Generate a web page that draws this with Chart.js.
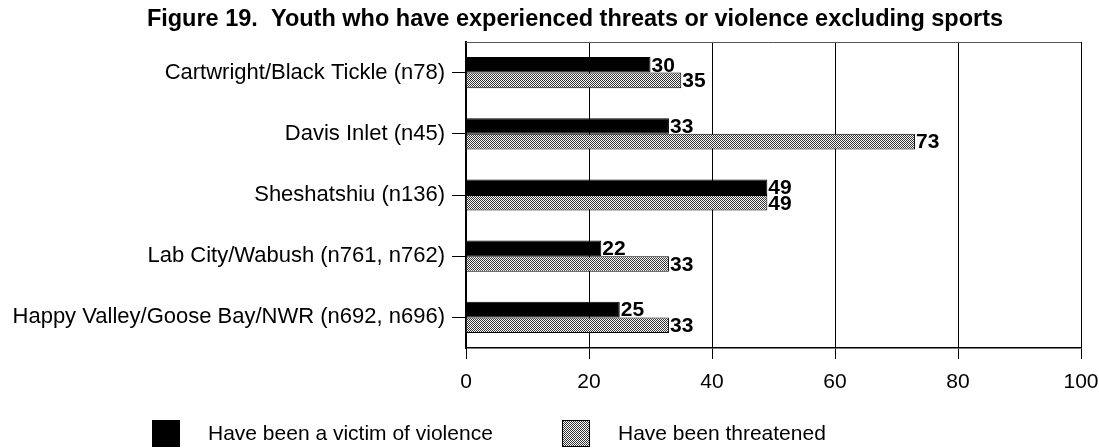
<!DOCTYPE html>
<html>
<head>
<meta charset="utf-8">
<script src="https://cdn.jsdelivr.net/npm/chart.js@4.4.1/dist/chart.umd.min.js"></script>
<style>
    html, body { margin: 0; padding: 0; background: #fff; }
    #wrap { width: 1099px; height: 448px; }
</style>
</head>
<body>
<div id="wrap"><canvas id="chart-youth" width="1099" height="448"></canvas></div>
<script>
// 数据
const CATEGORIES = [
    'Cartwright/Black Tickle (n78)',
    'Davis Inlet (n45)',
    'Sheshatshiu (n136)',
    'Lab City/Wabush (n761, n762)',
    'Happy Valley/Goose Bay/NWR (n692, n696)',
];
const VICTIM = [30, 33, 49, 22, 25];
const THREATENED = [35, 73, 49, 33, 33];
const X_TICKS = [0, 20, 40, 60, 80, 100];

const TITLE = 'Figure 19.  Youth who have experienced threats or violence excluding sports';
const LEGEND_LABELS = ['Have been a victim of violence', 'Have been threatened'];

const FONT = "'Liberation Sans', Arial, sans-serif";

// 细网点填充
function dotPattern() {
    const c = document.createElement('canvas');
    c.width = 2;
    c.height = 2;
    const g = c.getContext('2d');
    g.fillStyle = '#fff';
    g.fillRect(0, 0, 2, 2);
    g.fillStyle = '#333';
    g.fillRect(0, 0, 1, 1);
    g.fillRect(1, 1, 1, 1);
    return g.createPattern(c, 'repeat');
}
const HATCH = dotPattern();

// 标题
const titlePlugin = {
    id: 'figTitle',
    afterDraw(chart, args, opts) {
        const ctx = chart.ctx;
        ctx.save();
        ctx.font = 'bold 23.5px ' + FONT;
        ctx.fillStyle = '#000';
        ctx.textAlign = 'center';
        ctx.textBaseline = 'middle';
        ctx.fillText(opts.text, opts.x, opts.y);
        ctx.restore();
    },
};

// 图框上边线
const framePlugin = {
    id: 'frame',
    beforeDatasetsDraw(chart) {
        const a = chart.chartArea;
        const ctx = chart.ctx;
        ctx.save();
        ctx.strokeStyle = '#555';
        ctx.lineWidth = 1;
        ctx.beginPath();
        ctx.moveTo(a.left, a.top + 0.5);
        ctx.lineTo(a.right, a.top + 0.5);
        ctx.stroke();
        ctx.restore();
    },
};

// 数值标签
const valueLabels = {
    id: 'valueLabels',
    afterDatasetsDraw(chart) {
        const ctx = chart.ctx;
        ctx.save();
        ctx.font = 'bold 21px ' + FONT;
        ctx.fillStyle = '#000';
        ctx.textAlign = 'left';
        ctx.textBaseline = 'middle';
        chart.data.datasets.forEach((ds, i) => {
            chart.getDatasetMeta(i).data.forEach((bar, j) => {
                ctx.fillText(String(ds.data[j]), bar.x + 1, bar.y + 1);
            });
        });
        ctx.restore();
    },
};

// 底部图例
const legendRow = {
    id: 'legendRow',
    afterDraw(chart, args, opts) {
        const ctx = chart.ctx;
        ctx.save();
        ctx.font = '21px ' + FONT;
        ctx.textBaseline = 'middle';
        chart.data.datasets.forEach((ds, i) => {
            const x = opts.xs[i];
            ctx.fillStyle = ds.backgroundColor;
            ctx.fillRect(x, opts.y, opts.box, opts.box - 1);
            ctx.strokeStyle = '#000';
            ctx.lineWidth = 1;
            ctx.strokeRect(x + 0.5, opts.y + 0.5, opts.box - 1, opts.box - 2);
            ctx.fillStyle = '#000';
            ctx.fillText(ds.label, x + opts.box + opts.gap, opts.y + opts.box / 2);
        });
        ctx.restore();
    },
};

const ctx = document.getElementById('chart-youth');
new Chart(ctx, {
    type: 'bar',
    data: {
        labels: CATEGORIES,
        datasets: [
            {
                label: LEGEND_LABELS[0],
                data: VICTIM,
                backgroundColor: '#000',
                borderColor: '#000',
                borderWidth: 1,
                categoryPercentage: 0.51,
                barPercentage: 1.0,
            },
            {
                label: LEGEND_LABELS[1],
                data: THREATENED,
                backgroundColor: HATCH,
                borderColor: '#000',
                borderWidth: 1,
                categoryPercentage: 0.51,
                barPercentage: 1.0,
            },
        ],
    },
    options: {
        indexAxis: 'y',
        responsive: false,
        devicePixelRatio: 1,
        animation: false,
        layout: { padding: { left: 0, right: 18, top: 42, bottom: 0 } },
        plugins: {
            legend: { display: false },
            title: { display: false },
            tooltip: { enabled: false },
            figTitle: { text: TITLE, x: 575, y: 20 },
            legendRow: { xs: [152, 562], y: 420, box: 28, gap: 28 },
        },
        scales: {
            x: {
                type: 'linear',
                min: 0,
                max: 100,
                afterBuildTicks: scale => {
                    scale.ticks = X_TICKS.map(v => ({ value: v }));
                },
                afterFit: scale => {
                    scale.height = 100;
                    scale.paddingLeft = 0;
                    scale.paddingRight = 0;
                },
                ticks: {
                    color: '#000',
                    padding: 11,
                    font: { family: FONT, size: 21 },
                },
                grid: {
                    color: '#000',
                    lineWidth: 1,
                    tickLength: 11,
                    drawOnChartArea: true,
                },
                border: { display: true, color: '#000', width: 1.5 },
            },
            y: {
                type: 'category',
                afterFit: scale => { scale.width = 466; },
                ticks: {
                    color: '#000',
                    padding: 7,
                    font: { family: FONT, size: 22 },
                },
                grid: {
                    offset: false,
                    drawOnChartArea: false,
                    color: '#000',
                    tickLength: 14,
                },
                border: { display: true, color: '#000', width: 2 },
            },
        },
    },
    plugins: [framePlugin, valueLabels, titlePlugin, legendRow],
});
</script>
</body>
</html>
